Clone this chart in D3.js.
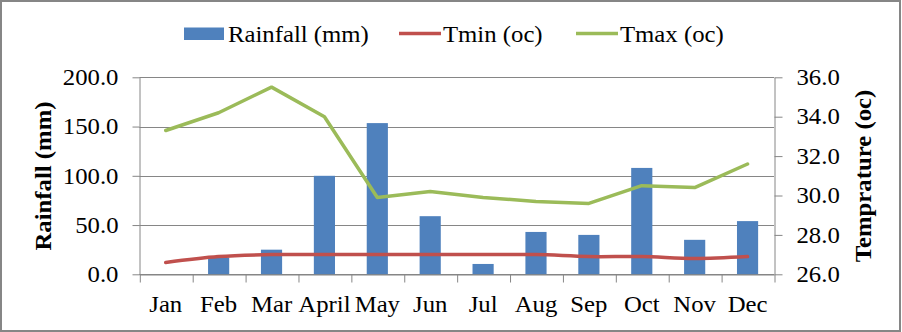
<!DOCTYPE html>
<html>
<head>
<meta charset="utf-8">
<script src="https://cdn.jsdelivr.net/npm/d3@7"></script>
<style>
  html, body { margin: 0; padding: 0; background: #fff; }
  svg { display: block; }
  text { font-family: "Liberation Serif", "Times New Roman", serif; fill: #000; }
</style>
</head>
<body>
<svg id="chart" width="902" height="332"></svg>
<script>
// Monthly climate record: rainfall bars on the left axis, temperature lines on the right
const months = ["Jan", "Feb", "Mar", "April", "May", "Jun", "Jul", "Aug", "Sep", "Oct", "Nov", "Dec"];
const rainfall = [0, 17, 25, 100, 153.5, 59, 10.5, 43, 40, 108, 35, 54];
const tmin = [26.6, 26.9, 27.0, 27.0, 27.0, 27.0, 27.0, 27.0, 26.9, 26.9, 26.8, 26.9];
const tmax = [33.3, 34.2, 35.5, 34.0, 29.9, 30.2, 29.9, 29.7, 29.6, 30.5, 30.4, 31.6];
const rainTicks = [0, 50, 100, 150, 200];
const tempTicks = [26, 28, 30, 32, 34, 36];

const COLORS = { rain: "#4F81BD", tmin: "#C0504D", tmax: "#9BBB59", grid: "#868686" };
const FS = 22.5;      // font size, px
const SX = 1.1;       // horizontal widening of the serif glyphs

const svg = d3.select("#chart");
const W = 902, H = 332;
const plot = { left: 139.3, right: 774, top: 77.3, bottom: 274.3 };

// outer frame
svg.append("rect")
  .attr("x", 1).attr("y", 1).attr("width", W - 3).attr("height", H - 2)
  .attr("fill", "#fff").attr("stroke", COLORS.grid).attr("stroke-width", 2);

const x = d3.scaleBand().domain(months).range([plot.left, plot.right]).paddingInner(0.6).paddingOuter(0.3);
const xEdge = d3.scaleLinear().domain([0, months.length]).range([plot.left, plot.right]);
const yRain = d3.scaleLinear().domain([0, 200]).range([plot.bottom, plot.top]);
const yTemp = d3.scaleLinear().domain([26, 36]).range([plot.bottom, plot.top]);
const cx = m => x(m) + x.bandwidth() / 2;

// horizontal gridlines at rainfall ticks
svg.append("g").selectAll("line").data(rainTicks).join("line")
  .attr("x1", plot.left).attr("x2", plot.right)
  .attr("y1", d => Math.round(yRain(d)) + 0.5).attr("y2", d => Math.round(yRain(d)) + 0.5)
  .attr("stroke", COLORS.grid).attr("stroke-width", 1);

// widen text horizontally, keeping its anchor in place
function widen(sel) {
  sel.each(function () {
    const t = d3.select(this);
    const tx = +t.attr("x") || 0, ty = +t.attr("y") || 0;
    t.attr("x", null).attr("y", null)
      .attr("transform", `translate(${tx},${ty}) scale(${SX},1)`);
  });
}

function styleAxis(g) {
  g.select(".domain").attr("stroke", COLORS.grid).attr("stroke-width", 1);
  g.selectAll(".tick line").attr("stroke", COLORS.grid).attr("stroke-width", 1);
  g.selectAll("text").attr("font-size", FS).attr("font-family", "Liberation Serif, serif").attr("fill", "#000");
}

// left axis (rainfall)
const gL = svg.append("g").attr("transform", `translate(${Math.round(plot.left) + 0.5},0)`)
  .call(d3.axisLeft(yRain).tickValues(rainTicks).tickFormat(d3.format(".1f")).tickSize(7).tickSizeOuter(0));
styleAxis(gL);
gL.selectAll(".tick text").attr("x", -21).attr("dy", "0.32em");
widen(gL.selectAll(".tick text"));

// right axis (temperature)
const gR = svg.append("g").attr("transform", `translate(${Math.round(plot.right) + 0.5},0)`)
  .call(d3.axisRight(yTemp).tickValues(tempTicks).tickFormat(d3.format(".1f")).tickSize(8).tickSizeOuter(0));
styleAxis(gR);
gR.selectAll(".tick text").attr("x", 22).attr("dy", "0.32em");
widen(gR.selectAll(".tick text"));

// bars
svg.append("g").selectAll("rect").data(months).join("rect")
  .attr("x", m => x(m)).attr("width", x.bandwidth())
  .attr("y", (m, i) => yRain(rainfall[i]))
  .attr("height", (m, i) => yRain(0) - yRain(rainfall[i]))
  .attr("fill", COLORS.rain);

// bottom axis: tick marks between categories
const gB = svg.append("g").attr("transform", `translate(0,${Math.round(plot.bottom) + 0.5})`)
  .call(d3.axisBottom(xEdge).tickValues(d3.range(months.length + 1)).tickFormat("").tickSize(8).tickSizeOuter(0));
styleAxis(gB);
gB.selectAll(".tick line").attr("transform", "translate(0.5,0)");

// category labels
const gLab = svg.append("g").attr("transform", `translate(0,${plot.bottom})`)
  .call(d3.axisBottom(x).tickSize(0).tickPadding(0));
gLab.select(".domain").remove();
styleAxis(gLab);
gLab.selectAll(".tick text").attr("y", 37.5).attr("dy", 0);
widen(gLab.selectAll(".tick text"));

// temperature lines
const lineMin = d3.line().x((d, i) => cx(months[i])).y(d => yTemp(d)).curve(d3.curveCatmullRom.alpha(0.5));
const lineMax = d3.line().x((d, i) => cx(months[i])).y(d => yTemp(d));
svg.append("path").datum(tmin).attr("d", lineMin)
  .attr("fill", "none").attr("stroke", COLORS.tmin).attr("stroke-width", 3.5).attr("stroke-linecap", "round");
svg.append("path").datum(tmax).attr("d", lineMax)
  .attr("fill", "none").attr("stroke", COLORS.tmax).attr("stroke-width", 3.5)
  .attr("stroke-linecap", "round").attr("stroke-linejoin", "round");

// axis titles
function title(txt, px, py) {
  svg.append("text")
    .attr("transform", `translate(${px},${py}) rotate(-90) scale(${SX},1)`)
    .attr("text-anchor", "middle").attr("dy", "0.35em")
    .attr("font-size", FS).attr("font-weight", "bold")
    .text(txt);
}
title("Rainfall (mm)", 43, 176);
title("Temprature (oc)", 863, 176);

// legend
const legend = svg.append("g");
const ly = 33.5;
legend.append("rect").attr("x", 184).attr("y", 27.5).attr("width", 40).attr("height", 12.5).attr("fill", COLORS.rain);
legend.append("line").attr("x1", 399).attr("x2", 441).attr("y1", ly).attr("y2", ly)
  .attr("stroke", COLORS.tmin).attr("stroke-width", 3.5);
legend.append("line").attr("x1", 576).attr("x2", 618).attr("y1", ly).attr("y2", ly)
  .attr("stroke", COLORS.tmax).attr("stroke-width", 3.5);
const legendItems = [["Rainfall (mm)", 228], ["Tmin (oc)", 443], ["Tmax (oc)", 620]];
legend.selectAll("text").data(legendItems).join("text")
  .attr("transform", d => `translate(${d[1]},${41.5}) scale(${SX},1)`)
  .attr("font-size", FS)
  .text(d => d[0]);
</script>
</body>
</html>
